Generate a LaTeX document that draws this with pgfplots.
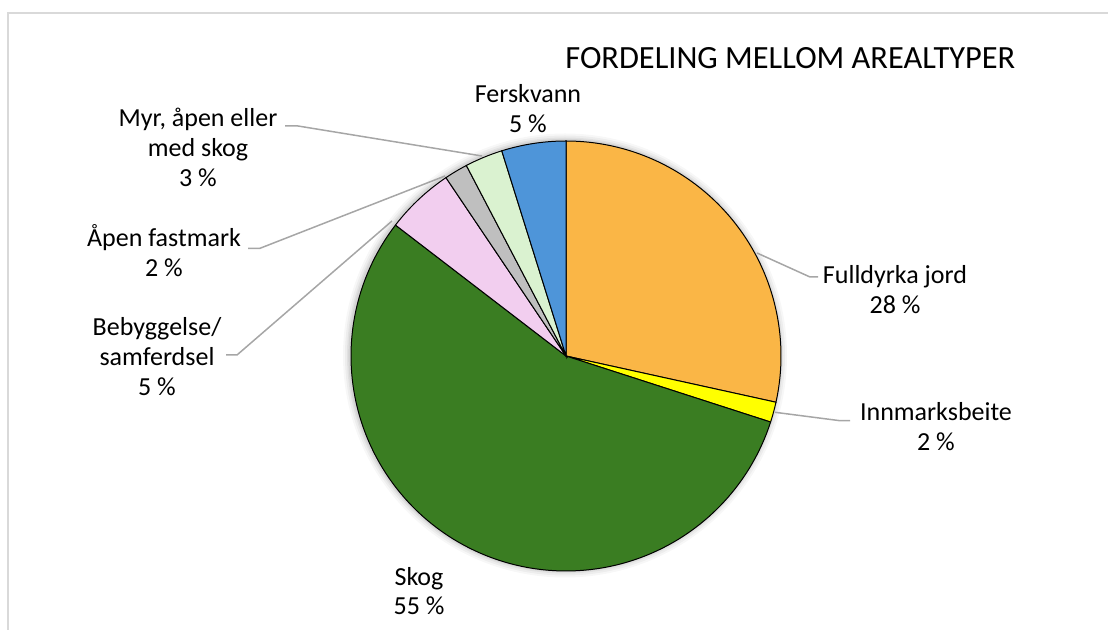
\documentclass[border=0pt]{standalone}
\usepackage{pgfplots}
\pgfplotsset{compat=1.18}
\usepackage{pgfplotstable}
\usepackage{fontspec}
\setmainfont{Carlito}

\definecolor{cOrange}{RGB}{250,182,70}
\definecolor{cYellow}{RGB}{255,255,0}
\definecolor{cGreen}{RGB}{58,125,34}
\definecolor{cPink}{RGB}{242,206,239}
\definecolor{cGray}{RGB}{191,191,191}
\definecolor{cLGreen}{RGB}{218,242,208}
\definecolor{cBlue}{RGB}{78,149,217}
\definecolor{leader}{RGB}{166,166,166}
\definecolor{frame}{RGB}{217,217,217}

% shares in percent, clockwise from 12 o'clock
\pgfplotstableread{
name value
Fulldyrka 28.45
Innmarksbeite 1.52
Skog 55.45
Bebyggelse 5.15
Apen 1.76
Myr 2.84
Ferskvann 4.83
}\pietable

% pie centre and radius in axis units (1 unit = 1 px of the reference)
\def\cx{566}
\def\cy{274}
\def\rr{215}

\newcommand\slice[2]{%
  \edef\tmp{\noexpand\addplot[draw=black, line width=0.5pt, fill=#2,
    domain=\csname ea#1\endcsname:\csname sa#1\endcsname, samples=120,
    variable=\noexpand\t]
    ({\cx+\rr*cos(\noexpand\t)},{\cy+\rr*sin(\noexpand\t)})
    -- (axis cs:\cx,\cy) -- cycle;}\tmp}

\newcommand\lab[3]{\node[anchor=base, inner sep=0pt, font=\fontsize{13}{15}\selectfont] at (axis cs:#1,{630-#2}) {#3};}
\newcommand\lead[6]{\draw[leader, line width=0.75pt] (axis cs:#1,{630-#2}) -- (axis cs:#3,{630-#4}) -- (axis cs:#5,{630-#6});}

\begin{document}
\begin{tikzpicture}
% cumulative angles of the slices
\xdef\cum{0}
\foreach \i in {0,...,6}{%
  \pgfplotstablegetelem{\i}{value}\of\pietable
  \pgfmathsetmacro\s{90-3.6*\cum}%
  \pgfmathsetmacro\newcum{\cum+\pgfplotsretval}%
  \pgfmathsetmacro\e{90-3.6*\newcum}%
  \expandafter\xdef\csname sa\i\endcsname{\s}%
  \expandafter\xdef\csname ea\i\endcsname{\e}%
  \xdef\cum{\newcum}%
}
\begin{axis}[
  width=554.5pt, height=315pt, scale only axis,
  xmin=0, xmax=1109, ymin=0, ymax=630,
  hide axis, clip=false]

% chart frame
\draw[frame, line width=1pt] (axis cs:8,0) -- (axis cs:8,617) -- (axis cs:1108,617);

% soft shadow
\fill[black, opacity=0.03] (axis cs:565,274.5) circle[radius=111pt];
\fill[black, opacity=0.04] (axis cs:565,274.5) circle[radius=110pt];
\fill[black, opacity=0.05] (axis cs:565,274.5) circle[radius=109pt];
\fill[black, opacity=0.06] (axis cs:565,274.5) circle[radius=108.3pt];

\slice{0}{cOrange}
\slice{1}{cYellow}
\slice{2}{cGreen}
\slice{3}{cPink}
\slice{4}{cGray}
\slice{5}{cLGreen}
\slice{6}{cBlue}

% leader lines
\lead{757}{253}{810}{277}{818}{277}
\lead{775}{412.3}{840}{420.7}{850}{420.7}
\lead{392}{221}{237}{355}{226}{355}
\lead{445}{176}{260}{248.3}{248}{248.3}
\lead{482}{156}{298}{126}{285}{126}

% labels
\lab{528}{102.5}{Ferskvann}
\lab{528}{132.5}{5 \%}
\lab{198}{127}{Myr, åpen eller}
\lab{198}{157}{med skog}
\lab{198}{187}{3 \%}
\lab{164}{247}{Åpen fastmark}
\lab{164}{277}{2 \%}
\lab{157}{336}{Bebyggelse/}
\lab{157}{366}{samferdsel}
\lab{157}{396}{5 \%}
\lab{895}{284}{Fulldyrka jord}
\lab{895}{314}{28 \%}
\lab{936}{421}{Innmarksbeite}
\lab{936}{451}{2 \%}
\lab{419}{586}{Skog}
\lab{419}{615}{55 \%}

% title
\node[anchor=base west, inner sep=0pt, font=\fontsize{16.2}{19}\selectfont] at (axis cs:565,561) {FORDELING MELLOM AREALTYPER};

% page = reference area
\path (axis cs:0,0) rectangle (axis cs:1109,630);
\end{axis}
\end{tikzpicture}
\end{document}
